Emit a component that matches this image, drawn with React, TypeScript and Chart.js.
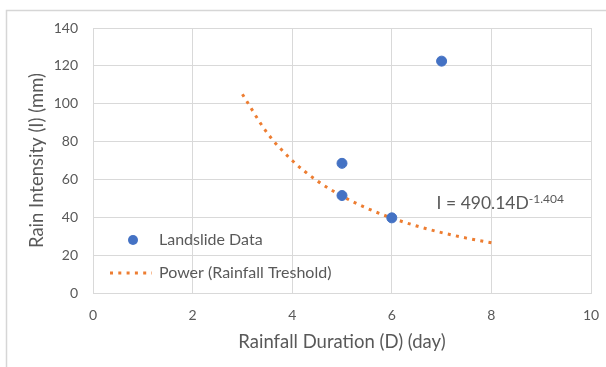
import React, { useEffect, useRef } from "react";
import { Chart, registerables } from "chart.js";

Chart.register(...registerables);

// Observed landslide events
const landslideDuration = [5, 5, 6, 7];
const landslideIntensity = [68.5, 51.5, 39.7, 122.5];

// Power trendline (rainfall threshold)
const trendDuration = [3, 3.5, 4, 4.5, 5, 5.5, 6, 6.5, 7, 7.5, 8];
const trendIntensity = [105, 84.5, 70, 59.3, 51.2, 44.8, 39.6, 35.4, 31.9, 29, 26.5];

const xTickValues = [0, 2, 4, 6, 8, 10];
const yTickValues = [0, 20, 40, 60, 80, 100, 120, 140];

const seriesNames = ["Landslide Data", "Power (Rainfall Treshold)"];
const xTitle = "Rainfall Duration (D) (day)";
const yTitle = "Rain Intensity (I) (mm)";
const equationBase = "I = 490.14D";
const equationExponent = "-1.404";
const equationAnchor = { x: 6.9, y: 47 };

const FONT = "Lato, 'Open Sans', sans-serif";
const TEXT = "#595959";
const GRID = "#d9d9d9";
const BLUE = "#4472C4";
const ORANGE = "#ED7D31";

const decorPlugin = {
  id: "decor",
  beforeDraw(chart: any) {
    const ctx = chart.ctx;
    ctx.save();
    ctx.fillStyle = "#ffffff";
    ctx.fillRect(0, 0, chart.width, chart.height);
    ctx.strokeStyle = "#d6d6d6";
    ctx.lineWidth = 1.5;
    ctx.strokeRect(6.5, 10.5, chart.width + 20, chart.height + 20);
    ctx.restore();
  },
  afterDraw(chart: any) {
    const ctx = chart.ctx;
    const a = chart.chartArea;
    const xs = chart.scales.x;
    const ys = chart.scales.y;
    ctx.save();
    ctx.fillStyle = TEXT;
    // axis titles
    ctx.font = `18.5px ${FONT}`;
    ctx.textAlign = "center";
    ctx.textBaseline = "middle";
    ctx.fillText(xTitle, (a.left + a.right) / 2, 342);
    ctx.save();
    ctx.translate(37, (a.top + a.bottom) / 2);
    ctx.rotate(-Math.PI / 2);
    ctx.fillText(yTitle, 0, 0);
    ctx.restore();

    // legend
    ctx.font = `16px ${FONT}`;
    ctx.textAlign = "left";
    const ly1 = a.top + 212;
    const ly2 = a.top + 245;
    ctx.fillStyle = BLUE;
    ctx.beginPath();
    ctx.arc(a.left + 40, ly1, 5, 0, Math.PI * 2);
    ctx.fill();
    ctx.strokeStyle = ORANGE;
    ctx.lineWidth = 3;
    ctx.setLineDash([3, 5.3]);
    ctx.beginPath();
    ctx.moveTo(a.left + 17, ly2);
    ctx.lineTo(a.left + 59, ly2);
    ctx.stroke();
    ctx.setLineDash([]);
    ctx.fillStyle = TEXT;
    ctx.fillText(seriesNames[0], a.left + 66, ly1);
    ctx.fillText(seriesNames[1], a.left + 66, ly2);

    // equation
    const ex = xs.getPixelForValue(equationAnchor.x);
    const ey = ys.getPixelForValue(equationAnchor.y) + 5;
    ctx.textBaseline = "alphabetic";
    ctx.font = `17.5px ${FONT}`;
    ctx.fillText(equationBase, ex, ey);
    const w = ctx.measureText(equationBase).width;
    ctx.font = `12px ${FONT}`;
    ctx.fillText(equationExponent, ex + w, ey - 6);
    ctx.restore();
  },
};

export default function App() {
  const ref = useRef<HTMLCanvasElement>(null);
  useEffect(() => {
    if (!ref.current) return;
    const chart = new Chart(ref.current, {
      type: "scatter",
      data: {
        datasets: [
          {
            label: seriesNames[0],
            data: landslideDuration.map((d, i) => ({ x: d, y: landslideIntensity[i] })),
            backgroundColor: BLUE,
            borderColor: BLUE,
            pointRadius: 5,
            pointHoverRadius: 5,
            order: 1,
          },
          {
            label: seriesNames[1],
            type: "line",
            data: trendDuration.map((d, i) => ({ x: d, y: trendIntensity[i] })),
            borderColor: ORANGE,
            borderWidth: 3,
            borderDash: [3, 5.3],
            pointRadius: 0,
            fill: false,
            cubicInterpolationMode: "monotone",
            showLine: true,
            order: 2,
          } as any,
        ],
      },
      options: {
        responsive: false,
        animation: false,
        devicePixelRatio: 1,
        layout: { padding: { top: 28, right: 15, left: 0, bottom: 0 } },
        plugins: { legend: { display: false }, tooltip: { enabled: false } },
        scales: {
          x: {
            type: "linear",
            min: 0,
            max: 10,
            afterBuildTicks: (s: any) => {
              s.ticks = xTickValues.map((v) => ({ value: v }));
            },
            afterFit: (s: any) => {
              s.height = 74;
              s.paddingLeft = 0;
              s.paddingRight = 0;
            },
            grid: { color: GRID, drawTicks: false, lineWidth: 1 },
            border: { color: GRID },
            ticks: { color: TEXT, font: { family: FONT, size: 14 }, padding: 14 },
          },
          y: {
            type: "linear",
            min: 0,
            max: 140,
            afterBuildTicks: (s: any) => {
              s.ticks = yTickValues.map((v) => ({ value: v }));
            },
            afterFit: (s: any) => {
              s.width = 93;
              s.paddingTop = 0;
              s.paddingBottom = 0;
            },
            grid: { color: GRID, drawTicks: false, lineWidth: 1 },
            border: { color: GRID },
            ticks: { color: TEXT, font: { family: FONT, size: 14 }, padding: 15 },
          },
        },
      },
      plugins: [decorPlugin],
    });
    return () => chart.destroy();
  }, []);
  return (
    <div style={{ position: "absolute", left: 0, top: 0, width: 606, height: 367 }}>
      <canvas ref={ref} width={606} height={367} style={{ display: "block" }} />
    </div>
  );
}
